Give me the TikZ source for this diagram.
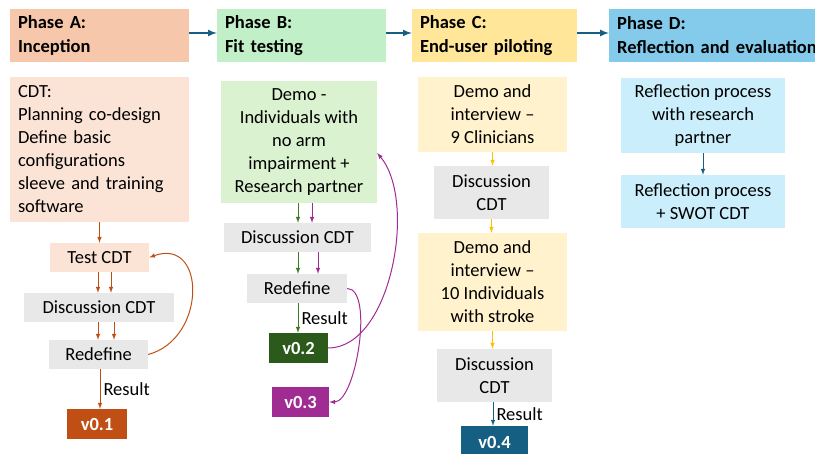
\documentclass[tikz,border=0pt]{standalone}
\usepackage{fontspec}
\setmainfont{Carlito}
\usepackage{tikz}
\usetikzlibrary{shapes,arrows,positioning}
\definecolor{peachhdr}{HTML}{F7C7AC}
\definecolor{peachlight}{HTML}{FBE3D6}
\definecolor{orangedark}{HTML}{C04F15}
\definecolor{greenhdr}{HTML}{C1F0C8}
\definecolor{greenlight}{HTML}{DAF2D0}
\definecolor{greendark}{HTML}{2B5A1B}
\definecolor{greenarrow}{HTML}{3B7D23}
\definecolor{purple}{HTML}{A02B93}
\definecolor{yellowhdr}{HTML}{FFE699}
\definecolor{yellowlight}{HTML}{FFF2CC}
\definecolor{yellowarrow}{HTML}{FFC000}
\definecolor{bluehdr}{HTML}{83CAEB}
\definecolor{bluelight}{HTML}{CAEEFB}
\definecolor{bluedark}{HTML}{156082}
\definecolor{graybox}{HTML}{E8E8E8}

\begin{document}
\begin{tikzpicture}[x=1pt,y=-1pt,>=latex]
\tikzset{font={\fontsize{18.5}{23}\selectfont}}
\tikzset{
hdr/.style={fill=#1,font={\fontsize{18.5}{24}\selectfont\bfseries},align=left,inner xsep=8pt,inner ysep=0pt,minimum height=53pt},
box/.style={fill=#1,align=center,inner sep=0pt},
ver/.style={fill=#1,text=white,font={\fontsize{18.5}{20}\selectfont\bfseries},inner sep=0pt},
flow/.style={->,line width=1pt,draw=#1},
}
\useasboundingbox (0,0) rectangle (815,454);

%Phases
\node[hdr=peachhdr,text width=163pt] (hdrA) at (99.5,35.5) {Phase A:\\Inception};
\node[hdr=greenhdr,text width=153pt] (hdrB) at (301.5,35.5) {Phase B:\\Fit testing};
\node[hdr=yellowhdr,text width=149pt] (hdrC) at (494.5,35.5) {Phase C:\\End-user piloting};
\node[hdr=bluehdr,text width=230pt,anchor=west] (hdrD) at (609,35.5) {Phase D:\\Reflection and evaluation};
\foreach \a/\b in {hdrA/hdrB,hdrB/hdrC,hdrC/hdrD}
\draw[->,line width=2pt,draw=bluedark] ([yshift=2.5pt]\a.east) -- ([yshift=2.5pt]\b.west);

%Phase A
\node[box=peachlight,text width=163pt,align=left,inner xsep=8pt,minimum height=145pt] (cdtA) at (99.5,149.5) {CDT:\\Planning co-design\\Define basic\\configurations\\sleeve and training\\software};
\node[box=peachlight,minimum width=99pt,minimum height=29pt] (testA) at (99.5,257.5) {Test CDT};
\node[box=graybox,minimum width=150pt,minimum height=29pt] (discA) at (99,307.5) {Discussion CDT};
\node[box=graybox,minimum width=99pt,minimum height=29pt] (redefA) at (98.5,354.5) {Redefine};
\node[ver=orangedark,minimum width=60pt,minimum height=30pt] (vA) at (97,424) {v0.1};

\draw[flow=orangedark] (cdtA) -- (testA);
\foreach \s in {-1.5pt,11.5pt}
\draw[flow=orangedark] ([xshift=\s]testA.south) -- ([xshift=\s]testA.south |- discA.north);
\foreach \s in {-1pt,15pt}
\draw[flow=orangedark] ([xshift=\s]discA.south) -- ([xshift=\s]discA.south |- redefA.north);
\draw[flow=orangedark] ([xshift=1.5pt]redefA.south) -- node[right,inner sep=3pt] {Result} ([xshift=1.5pt]redefA.south |- vA.north);
\draw (redefA.east) edge[out=15,in=20,looseness=1.6,flow=orangedark] (testA.east);

%Phase B
\node[box=greenlight,minimum width=156pt,minimum height=122pt] (demoB) at (299,142) {Demo -\\Individuals with\\no arm\\impairment +\\Research partner};
\node[box=graybox,minimum width=147pt,minimum height=29pt] (discB) at (297.5,237.5) {Discussion CDT};
\node[box=graybox,minimum width=100pt,minimum height=29pt] (redefB) at (297,288.5) {Redefine};
\node[ver=greendark,minimum width=59pt,minimum height=30pt] (vB2) at (298.5,348) {v0.2};
\node[ver=purple,minimum width=57pt,minimum height=30pt] (vB3) at (300.5,402) {v0.3};

\draw[flow=greenarrow] ([xshift=-1pt]demoB.south) -- ([xshift=-1pt]demoB.south |- discB.north);
\draw[flow=purple] ([xshift=13pt]demoB.south) -- ([xshift=13pt]demoB.south |- discB.north);
\draw[flow=greenarrow] ([xshift=0.5pt]discB.south) -- ([xshift=0.5pt]discB.south |- redefB.north);
\draw[flow=purple] ([xshift=20.5pt]discB.south) -- ([xshift=20.5pt]discB.south |- redefB.north);
\draw[flow=greenarrow] ([xshift=1pt]redefB.south) -- node[right,inner sep=3pt] {Result} ([xshift=1pt]redefB.south |- vB2.north);
\draw (vB2.east) edge[out=0,in=-50,looseness=0.8,flow=purple] ([yshift=-11pt]demoB.east);
\draw (redefB.east) edge[out=0,in=0,looseness=0.6,flow=purple] (vB3.east);

%Phase C
\node[box=yellowlight,minimum width=149pt,minimum height=75pt] (demoC1) at (492.5,114.5) {Demo and\\interview --\\9 Clinicians};
\node[box=graybox,minimum width=115pt,minimum height=53pt] (discC1) at (491.5,192.5) {Discussion\\CDT};
\node[box=yellowlight,minimum width=149pt,minimum height=98pt] (demoC2) at (492.5,282) {Demo and\\interview --\\10 Individuals\\with stroke};
\node[box=graybox,minimum width=115pt,minimum height=53pt] (discC2) at (494.5,375.5) {Discussion\\CDT};
\node[ver=bluedark,minimum width=67pt,minimum height=32pt] (vC) at (494.5,442) {v0.4};

\foreach \a/\b in {demoC1/discC1,discC1/demoC2,demoC2/discC2}
\draw[flow=yellowarrow] (\a.south) -- (\a.south |- \b.north);
\draw[flow=bluedark] ([xshift=-1.5pt]discC2.south) -- node[right,inner sep=3pt] {Result} ([xshift=-1.5pt]discC2.south |- vC.north);

%Phase D
\node[box=bluelight,minimum width=164pt,minimum height=75pt] (reflD1) at (703,115.5) {Reflection process\\with research\\partner};
\node[box=bluelight,minimum width=164pt,minimum height=53pt] (reflD2) at (703,201.5) {Reflection process\\+ SWOT CDT};
\draw[flow=bluedark] (reflD1) -- (reflD2);

\end{tikzpicture}
\end{document}
